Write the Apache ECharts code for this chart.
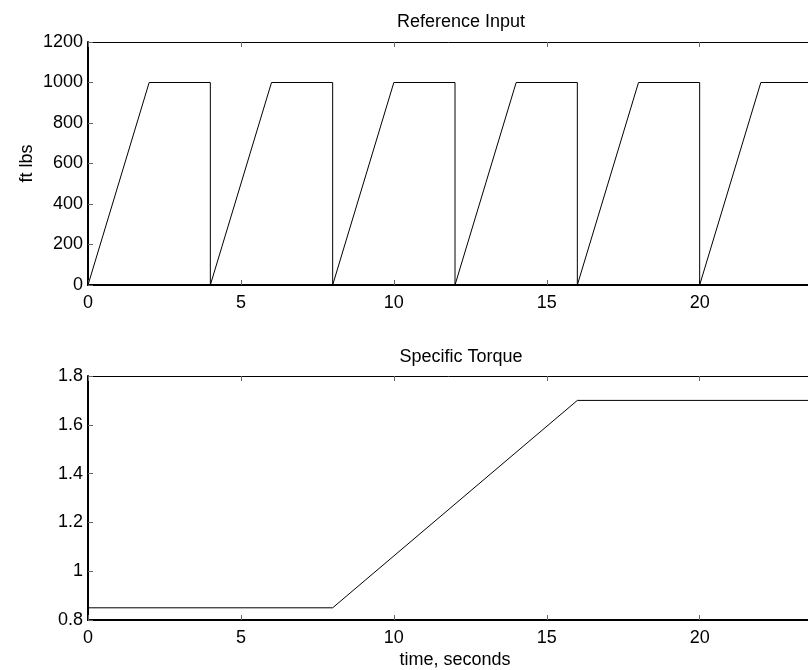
<!DOCTYPE html>
<html>
<head>
<meta charset="utf-8">
<script src="https://cdn.jsdelivr.net/npm/echarts@6/dist/echarts.min.js"></script>
<style>html,body{margin:0;padding:0;background:#fff}#c{width:808px;height:670px}</style>
</head>
<body>
<div id="c"></div>
<script>
// Reference input: trapezoid pulses (time, ft lbs)
var refTime  = [0, 2, 4, 4, 6, 8, 8, 10, 12, 12, 14, 16, 16, 18, 20, 20, 22, 24, 24];
var refValue = [0, 1000, 1000, 0, 1000, 1000, 0, 1000, 1000, 0, 1000, 1000, 0, 1000, 1000, 0, 1000, 1000, 0];
// Specific torque
var torqueTime  = [0, 8, 16, 24];
var torqueValue = [0.85, 0.85, 1.7, 1.7];
var xTicks = [0, 5, 10, 15, 20];
var refTicks = [0, 200, 400, 600, 800, 1000, 1200];
var torqueTicks = [0.8, 1, 1.2, 1.4, 1.6, 1.8];

var FONT = 'Liberation Sans';
var FS = 18;
function pairs(xs, ys){ return xs.map(function(x,i){ return [x, ys[i]]; }); }
function xAx(gi, show, name){
  return {
    type:'value', gridIndex:gi, min:0, max:24, interval:5, position: show ? 'bottom' : 'top',
    axisLine:{show:true, onZero:false, lineStyle:{color:'#000', width: show ? 2 : 1}},
    axisTick:{show:true, inside:true, length:5, lineStyle:{color:'#666'}},
    axisLabel:{show:show, color:'#000', fontFamily:FONT, fontSize:FS, margin:9, showMaxLabel:false},
    splitLine:{show:false},
    name: name || '', nameLocation:'middle', nameGap:31,
    nameTextStyle:{color:'#000', fontFamily:FONT, fontSize:FS}
  };
}
function yAx(gi, min, max, interval, name, fmt){
  return {
    type:'value', gridIndex:gi, min:min, max:max, interval:interval,
    axisLine:{show:true, onZero:false, lineStyle:{color:'#000', width:2}},
    axisTick:{show:true, inside:true, length:5, lineStyle:{color:'#666'}},
    axisLabel:{color:'#000', fontFamily:FONT, fontSize:FS, margin:5, formatter:fmt},
    splitLine:{show:false},
    name: name || '', nameLocation:'middle', nameGap:52, nameMoveOverlap:false,
    nameTextStyle:{color:'#000', fontFamily:FONT, fontSize:FS}
  };
}
var chart = echarts.init(document.getElementById('c'), null, {renderer:'canvas'});
chart.setOption({
  animation:false,
  backgroundColor:'#fff',
  title:[
    {text:'Reference Input', left:456, top:8, textAlign:'center', textStyle:{color:'#000', fontFamily:FONT, fontSize:FS, fontWeight:'normal'}},
    {text:'Specific Torque', left:456, top:343, textAlign:'center', textStyle:{color:'#000', fontFamily:FONT, fontSize:FS, fontWeight:'normal'}}
  ],
  grid:[
    {left:88, top:42, height:243, width:734, containLabel:false, outerBoundsMode:'none'},
    {left:88, top:376, height:244, width:734, containLabel:false, outerBoundsMode:'none'}
  ],
  xAxis:[ xAx(0,true), xAx(0,false), xAx(1,true,'time, seconds'), xAx(1,false) ],
  yAxis:[
    yAx(0, refTicks[0], refTicks[refTicks.length-1], 200, 'ft lbs', function(v){return String(v);}),
    yAx(1, torqueTicks[0], torqueTicks[torqueTicks.length-1], 0.2, '', function(v){return String(+v.toFixed(1));})
  ],
  series:[
    {type:'line', xAxisIndex:0, yAxisIndex:0, data:pairs(refTime, refValue), showSymbol:false, lineStyle:{color:'#000', width:1}},
    {type:'line', xAxisIndex:2, yAxisIndex:1, data:pairs(torqueTime, torqueValue), showSymbol:false, lineStyle:{color:'#000', width:1}}
  ]
});
</script>
</body>
</html>
